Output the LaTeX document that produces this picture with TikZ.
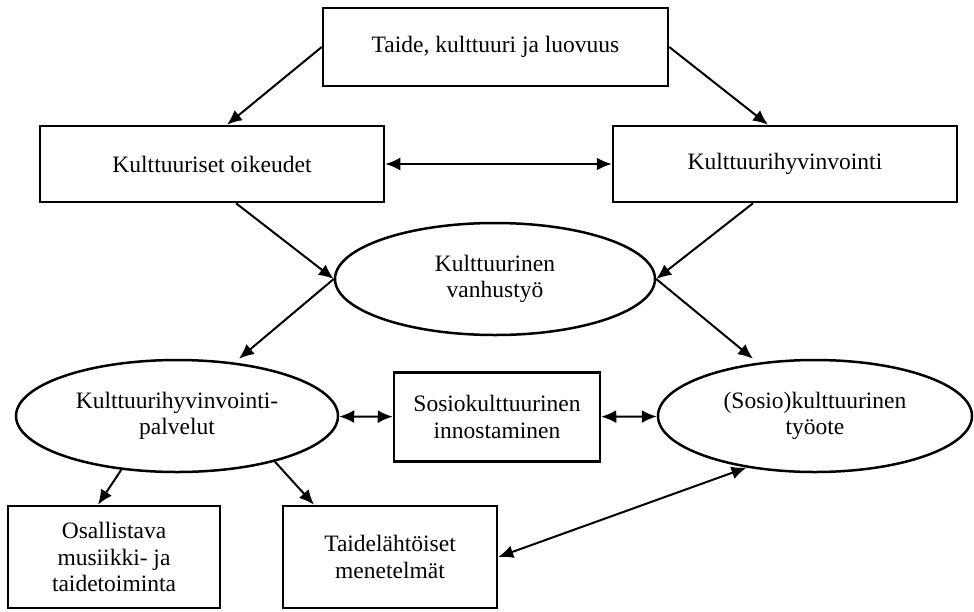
\documentclass[tikz,border=0pt]{standalone}
\usepackage{fontspec}
\setmainfont{Liberation Serif}
\usetikzlibrary{shapes,arrows.meta,calc}
\tikzstyle{line} = [draw, line width=2pt, -{Latex[length=15pt,width=13pt]}]
\tikzstyle{both} = [draw, line width=2pt, {Latex[length=15pt,width=13pt]}-{Latex[length=15pt,width=13pt]}]
\tikzstyle{block} = [draw, rectangle, line width=2.5pt, text centered, align=center]
\tikzstyle{cloud} = [draw, ellipse, line width=2.5pt, text centered, align=center, inner sep=0pt]

\begin{document}
\begin{tikzpicture}[x=1pt, y=-1pt, font=\fontsize{23.5}{26.5}\selectfont]
        \useasboundingbox (0,0) rectangle (974,611);
        \node[block, minimum width=345pt, minimum height=78pt] (taide) at (495.5,47) {Taide, kulttuuri ja luovuus};
        \node[block, minimum width=344pt, minimum height=76pt] (oikeudet) at (212,164) {Kulttuuriset oikeudet};
        \node[block, minimum width=344pt, minimum height=76pt] (hyvinvointi) at (785,164) {Kulttuurihyvinvointi};
        \node[cloud, minimum width=320pt, minimum height=112pt] (vanhustyo) at (495,279) {Kulttuurinen\\vanhustyö};
        \node[cloud, minimum width=322pt, minimum height=112pt] (palvelut) at (177,416) {Kulttuurihyvinvointi-\\palvelut};
        \node[block, minimum width=206pt, minimum height=89pt] (innostaminen) at (497,417) {Sosiokulttuurinen\\innostaminen};
        \node[cloud, minimum width=314pt, minimum height=112pt] (tyoote) at (815,416) {(Sosio)kulttuurinen\\työote};
        \node[block, minimum width=212pt, minimum height=102pt] (osallistava) at (114,557) {Osallistava\\musiikki- ja\\taidetoiminta};
        \node[block, minimum width=214pt, minimum height=102pt] (menetelmat) at (390,557) {Taidelähtöiset\\menetelmät};
        \path[line] (taide.west) -- ([xshift=15pt]oikeudet.north);
        \path[line] (taide.east) -- ([xshift=-17pt]hyvinvointi.north);
        \path[both] (oikeudet) -- (hyvinvointi);
        \path[line] ([xshift=24pt]oikeudet.south) -- (vanhustyo.west);
        \path[line] ([xshift=-32pt]hyvinvointi.south) -- (vanhustyo.east);
        \path[line] (vanhustyo.west) -- ([xshift=62pt]palvelut.north);
        \path[line] (vanhustyo.east) -- ([xshift=-62pt]tyoote.north);
        \path[both] (palvelut) -- (innostaminen);
        \path[both] (innostaminen) -- (tyoote);
        \path[line] (palvelut.224) -- ([xshift=-16pt]osallistava.north);
        \path[line] (palvelut.335) -- ([xshift=-76pt]menetelmat.north);
        \path[both] (menetelmat.east) -- (tyoote.217);
    \end{tikzpicture}
\end{document}
